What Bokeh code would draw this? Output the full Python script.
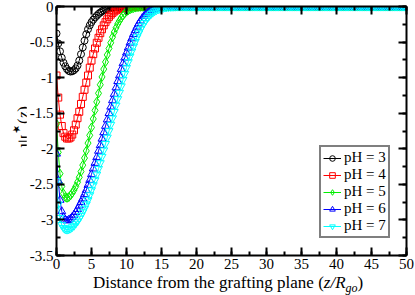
import numpy as np
from bokeh.plotting import figure
from bokeh.models import Range1d, LinearAxis, SingleIntervalTicker, Legend, LegendItem, Div
from bokeh.layouts import row, column
from bokeh.embed import file_html
from bokeh.resources import INLINE

# ---------------- data ----------------
Z_STEP = 0.25
z = np.round(np.arange(0.0, 50.0 + Z_STEP / 2, Z_STEP), 2)

psi_pH3 = [-0.38, -0.52, -0.63, -0.72, -0.79, -0.84, -0.88, -0.905, -0.915, -0.91,
           -0.895, -0.87, -0.83, -0.76, -0.67, -0.575, -0.48, -0.39, -0.32, -0.265,
           -0.22, -0.185, -0.155, -0.13, -0.105, -0.085, -0.068, -0.054, -0.043, -0.034,
           -0.027, -0.021, -0.016, -0.012, -0.009, -0.007, -0.005, -0.004, -0.003, -0.002,
           -0.001]
psi_pH4 = [-0.97, -1.28, -1.52, -1.68, -1.78, -1.83, -1.855, -1.855, -1.84, -1.80,
           -1.74, -1.66, -1.57, -1.48, -1.37, -1.27, -1.17, -1.07, -0.97, -0.86,
           -0.76, -0.67, -0.59, -0.51, -0.44, -0.375, -0.32, -0.265, -0.22, -0.18,
           -0.145, -0.115, -0.09, -0.07, -0.053, -0.04, -0.03, -0.022, -0.016, -0.012,
           -0.008, -0.006, -0.004, -0.003, -0.002, -0.001]
psi_pH5 = [-1.65, -2.05, -2.35, -2.53, -2.63, -2.68, -2.69, -2.68, -2.655, -2.62,
           -2.58, -2.53, -2.47, -2.40, -2.32, -2.23, -2.13, -2.03, -1.92, -1.81,
           -1.70, -1.58, -1.46, -1.34, -1.22, -1.10, -0.99, -0.88, -0.78, -0.68,
           -0.59, -0.51, -0.43, -0.36, -0.30, -0.245, -0.20, -0.16, -0.125, -0.095,
           -0.072, -0.054, -0.040, -0.029, -0.021, -0.015, -0.010, -0.007, -0.005, -0.003,
           -0.002, -0.001]
psi_pH6 = [-2.07, -2.45, -2.72, -2.88, -2.96, -3.00, -3.01, -3.00, -2.985, -2.96,
           -2.93, -2.89, -2.85, -2.80, -2.75, -2.70, -2.64, -2.58, -2.51, -2.44,
           -2.36, -2.28, -2.20, -2.12, -2.03, -1.95, -1.86, -1.77, -1.68, -1.59,
           -1.50, -1.41, -1.32, -1.23, -1.14, -1.05, -0.97, -0.88, -0.80, -0.72,
           -0.65, -0.58, -0.51, -0.45, -0.39, -0.335, -0.285, -0.24, -0.20, -0.165,
           -0.135, -0.11, -0.088, -0.07, -0.055, -0.043, -0.033, -0.025, -0.019, -0.014,
           -0.010, -0.007, -0.005, -0.003, -0.002, -0.001]
psi_pH7 = [-2.45, -2.78, -2.97, -3.07, -3.11, -3.13, -3.135, -3.13, -3.12, -3.10,
           -3.08, -3.05, -3.02, -2.98, -2.94, -2.89, -2.84, -2.78, -2.72, -2.65,
           -2.58, -2.51, -2.44, -2.36, -2.28, -2.20, -2.11, -2.02, -1.93, -1.84,
           -1.75, -1.66, -1.57, -1.48, -1.39, -1.30, -1.21, -1.12, -1.03, -0.945,
           -0.86, -0.78, -0.70, -0.63, -0.56, -0.495, -0.43, -0.375, -0.32, -0.275,
           -0.23, -0.195, -0.16, -0.13, -0.105, -0.085, -0.066, -0.052, -0.04, -0.031,
           -0.023, -0.017, -0.012, -0.009, -0.006, -0.004, -0.003, -0.002, -0.001]

series_labels = ["pH = 3", "pH = 4", "pH = 5", "pH = 6", "pH = 7"]
series_values = [psi_pH3, psi_pH4, psi_pH5, psi_pH6, psi_pH7]
series_colors = ["#000000", "#ff0000", "#00ee00", "#0000ff", "#00ffff"]
series_markers = ["circle", "square", "diamond", "triangle", "inverted_triangle"]
series_sizes = [7, 7, 9, 8, 8]

x_ticks = [0, 5, 10, 15, 20, 25, 30, 35, 40, 45, 50]
x_tick_labels = ["0", "5", "10", "15", "20", "25", "30", "35", "40", "45", "50"]
y_ticks = [0, -0.5, -1, -1.5, -2, -2.5, -3, -3.5]
y_tick_labels = ["0", "-0.5", "-1", "-1.5", "-2", "-2.5", "-3", "-3.5"]

x_title_html = "Distance from the grafting plane (<i>z/R</i><sub style=\"font-size:12px\"><i>go</i></sub>)"
y_title_html = ("<span style=\"font-size:20px\">\u03c8</span>"
                "<sup style=\"font-family:'DejaVu Sans';font-size:10px\">\u2605</sup>(<i>z</i>)")

SERIF = "Liberation Serif"

# ---------------- figure ----------------
p = figure(width=389, height=276, output_backend="svg", toolbar_location=None,
           x_range=Range1d(0, 50), y_range=Range1d(-3.5, 0),
           x_axis_location=None, y_axis_location=None,
           min_border_left=28, min_border_right=9, min_border_top=6, min_border_bottom=21)
p.outline_line_color = None
p.xgrid.visible = False
p.ygrid.visible = False
p.background_fill_color = "white"
p.border_fill_color = "white"


def make_axis(interval, ticks=None, labels=None):
    ax = LinearAxis(ticker=SingleIntervalTicker(interval=interval, num_minor_ticks=2))
    ax.axis_line_width = 2
    ax.axis_line_color = "black"
    ax.major_tick_line_width = 2
    ax.minor_tick_line_width = 2
    ax.major_tick_in = 8
    ax.major_tick_out = 0
    ax.minor_tick_in = 4
    ax.minor_tick_out = 0
    if labels is not None:
        ax.major_label_overrides = {float(t): s for t, s in zip(ticks, labels)}
        ax.major_label_text_font = SERIF
        ax.major_label_text_font_size = "15px"
        ax.major_label_text_color = "black"
        ax.major_label_standoff = 3
    else:
        ax.major_label_text_font_size = "0px"
        ax.major_label_text_color = None
        ax.major_label_standoff = 0
    return ax


p.add_layout(make_axis(5, x_ticks, x_tick_labels), "below")
p.add_layout(make_axis(0.5, y_ticks, y_tick_labels), "left")
p.add_layout(make_axis(5), "above")
p.add_layout(make_axis(0.5), "right")

items = []
for lab, vals, col, mk, sz in zip(series_labels, series_values, series_colors, series_markers, series_sizes):
    y = np.array(vals + [0.0] * (len(z) - len(vals)))
    r_line = p.line(z, y, line_color=col, line_width=1)
    r_pts = p.scatter(z, y, marker=mk, size=sz, line_color=col, fill_color=None, line_width=1)
    items.append(LegendItem(label=lab, renderers=[r_line, r_pts]))

legend = Legend(items=items, location=(263, 17))
legend.border_line_color = "black"
legend.border_line_width = 2
legend.background_fill_color = "white"
legend.background_fill_alpha = 1
legend.padding = 2
legend.spacing = 0
legend.margin = 0
legend.glyph_height = 14
legend.glyph_width = 18
legend.label_height = 14
legend.label_standoff = 3
legend.label_text_font = SERIF
legend.label_text_font_size = "15px"
legend.label_text_color = "black"
p.add_layout(legend)

# ---------------- axis titles as HTML text ----------------
ydiv = Div(width=26, height=295, margin=0,
           text=("<div style=\"display:inline-block;vertical-align:top;writing-mode:vertical-rl;"
                 "transform:rotate(180deg);margin-left:8px;margin-top:106px;white-space:nowrap;"
                 "font-family:'Liberation Serif';font-size:17px;line-height:18px;color:black\">"
                 + y_title_html + "</div>"))
xdiv = Div(width=389, height=19, margin=0,
           text=("<div style=\"margin-left:67px;margin-top:-7px;white-space:nowrap;"
                 "font-family:'Liberation Serif';font-size:17px;line-height:17px;color:black\">"
                 + x_title_html + "</div>"))

layout = row(ydiv, column(p, xdiv, spacing=0), spacing=0)

open("out.html", "w").write(file_html(layout, INLINE))
